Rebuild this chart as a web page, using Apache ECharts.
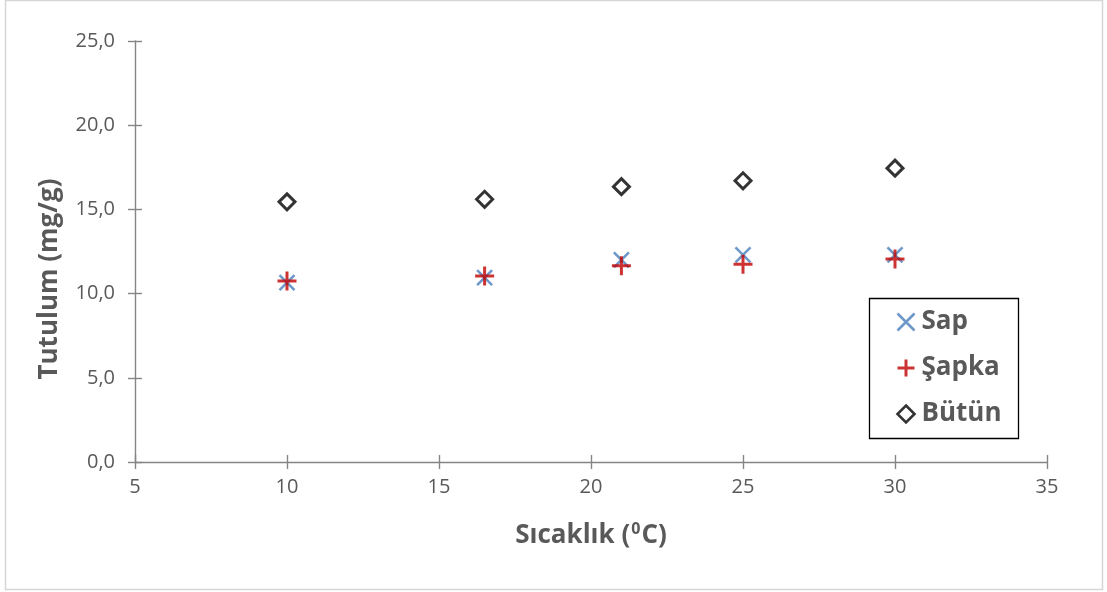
<!DOCTYPE html>
<html>
<head>
<meta charset="utf-8">
<script src="https://cdn.jsdelivr.net/npm/echarts@6/dist/echarts.min.js"></script>
<style>
  html, body { margin: 0; padding: 0; background: #ffffff; }
  #chart { width: 1107px; height: 592px; }
</style>
</head>
<body>
<div id="chart"></div>
<script>
// Sıcaklık (°C) değerleri
var temperatures = [10, 16.5, 21, 25, 30];
// Tutulum (mg/g) değerleri
var sapValues = [10.65, 10.95, 12.0, 12.3, 12.3];
var sapkaValues = [10.75, 11.05, 11.65, 11.75, 12.05];
var butunValues = [15.45, 15.6, 16.35, 16.7, 17.45];
var seriesNames = ['Sap', 'Şapka', 'Bütün'];
// eksen sınırları: [min, max, aralık]
var xRange = [5, 35, 5];
var yRange = [0, 25, 5];

var FONT = '"Open Sans", "DejaVu Sans", sans-serif';
var TEXT = '#595959';
var AXIS = '#858585';
var NONE = 'rgba(0,0,0,0)';

var GRID = { left: 135, right: 60, top: 41, bottom: 130, containLabel: false, outerBoundsMode: 'none' };

function pairs(xs, ys) {
  return xs.map(function (x, i) { return [x, ys[i]]; });
}

var crossSymbol = 'path://M0,0L10,10M10,0L0,10';
var plusSymbol = 'path://M5,0L5,10M0,5L10,5';

var styles = {
  'Sap': { color: 'transparent', borderColor: '#4a7ebb', borderWidth: 2.6 },
  'Şapka': { color: 'transparent', borderColor: '#c00000', borderWidth: 3 },
  'Bütün': { color: '#ffffff', borderColor: '#000000', borderWidth: 3 }
};

var tickStyle = { color: AXIS, width: 1.4 };

function merge(a, extra) {
  for (var k in extra) a[k] = extra[k];
  return a;
}
function baseX(extra) {
  return merge({
    type: 'value', min: xRange[0], max: xRange[1], interval: xRange[2],
    position: 'bottom', splitLine: { show: false }
  }, extra);
}
function baseY(extra) {
  return merge({
    type: 'value', min: yRange[0], max: yRange[1], interval: yRange[2],
    position: 'left', splitLine: { show: false }
  }, extra);
}
function yLabel(v) { return v.toFixed(1).replace('.', ','); }

var chart = echarts.init(document.getElementById('chart'), null, { renderer: 'canvas' });

chart.setOption({
  animation: false,
  backgroundColor: '#ffffff',
  textStyle: { fontFamily: FONT },
  // second grid has the same frame; it only carries the inner half of the crossing ticks
  grid: [merge({}, GRID), merge({}, GRID)],
  xAxis: [
    baseX({
      gridIndex: 0,
      name: '{t|Sıcaklık (}{s|0}{t|C)}',
      nameLocation: 'middle',
      nameGap: 59,
      nameTextStyle: {
        rich: {
          t: { fontFamily: FONT, fontSize: 26, fontWeight: 'bold', color: TEXT, lineHeight: 30 },
          s: { fontFamily: FONT, fontSize: 16, fontWeight: 'bold', color: TEXT, verticalAlign: 'top', lineHeight: 30, padding: [0, 1, 12, 1] }
        }
      },
      axisLine: { show: true, onZero: false, lineStyle: { color: AXIS, width: 1.4 } },
      axisTick: { show: true, inside: false, length: 7, lineStyle: tickStyle },
      axisLabel: { show: true, margin: 15, fontFamily: FONT, fontSize: 20, color: TEXT }
    }),
    baseX({
      gridIndex: 1,
      axisLine: { show: true, onZero: false, lineStyle: { color: NONE, width: 1 } },
      axisTick: { show: true, inside: true, length: 7, lineStyle: tickStyle },
      axisLabel: { show: true, margin: 15, fontSize: 20, color: NONE }
    })
  ],
  yAxis: [
    baseY({
      gridIndex: 0,
      axisLine: { show: true, onZero: false, lineStyle: { color: AXIS, width: 1.4 } },
      axisTick: { show: true, inside: false, length: 7, lineStyle: tickStyle },
      axisLabel: { show: true, margin: 20, fontFamily: FONT, fontSize: 20, color: TEXT, formatter: yLabel }
    }),
    baseY({
      gridIndex: 1,
      axisLine: { show: true, onZero: false, lineStyle: { color: NONE, width: 1 } },
      axisTick: { show: true, inside: true, length: 7, lineStyle: tickStyle },
      axisLabel: { show: true, margin: 20, fontSize: 20, color: NONE, formatter: yLabel }
    })
  ],
  legend: {
    orient: 'vertical',
    left: 896,
    top: 309,
    padding: 0,
    itemGap: 20,
    itemWidth: 17,
    itemHeight: 17,
    textStyle: { fontFamily: FONT, fontSize: 26, fontWeight: 'bold', color: TEXT, padding: [0, 0, 0, 2] },
    data: [
      { name: 'Sap', icon: crossSymbol, itemStyle: styles['Sap'] },
      { name: 'Şapka', icon: plusSymbol, itemStyle: styles['Şapka'] },
      { name: 'Bütün', icon: 'diamond', itemStyle: { color: '#ffffff', borderColor: '#000000', borderWidth: 2.6 } }
    ]
  },
  graphic: [
    {
      type: 'rect', z: -10, silent: true,
      shape: { x: 5.5, y: 0.5, width: 1097, height: 589 },
      style: { fill: 'none', stroke: '#d6d6d6', lineWidth: 1.5 }
    },
    {
      type: 'rect', z: 1, silent: true,
      shape: { x: 869.5, y: 298.5, width: 149, height: 140 },
      style: { fill: '#ffffff', stroke: '#000000', lineWidth: 1.3 }
    },
    {
      type: 'text', silent: true,
      x: 50, y: 279, rotation: Math.PI / 2,
      style: {
        text: 'Tutulum (mg/g)',
        font: 'bold 26px ' + FONT,
        fill: TEXT,
        textAlign: 'center',
        textVerticalAlign: 'middle'
      }
    }
  ],
  series: [
    {
      name: seriesNames[0], type: 'scatter', z: 3,
      symbol: crossSymbol, symbolSize: 15,
      itemStyle: styles['Sap'],
      data: pairs(temperatures, sapValues)
    },
    {
      name: seriesNames[1], type: 'scatter', z: 4,
      symbol: plusSymbol, symbolSize: 19,
      itemStyle: styles['Şapka'],
      data: pairs(temperatures, sapkaValues)
    },
    {
      name: seriesNames[2], type: 'scatter', z: 5,
      symbol: 'diamond', symbolSize: 16,
      itemStyle: styles['Bütün'],
      data: pairs(temperatures, butunValues)
    }
  ]
});
</script>
</body>
</html>
